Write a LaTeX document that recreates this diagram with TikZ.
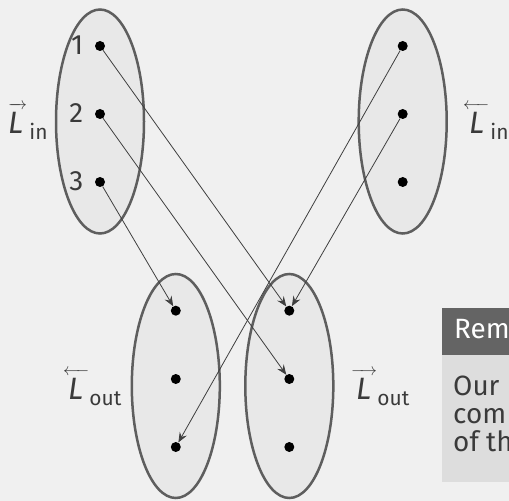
\documentclass[tikz,border=0pt]{standalone}
\usepackage{fontspec}
\setmainfont{Fira Sans}
\usetikzlibrary{shapes.geometric,arrows.meta}
\definecolor{bgc}{HTML}{F0F0F0}
\definecolor{setfill}{HTML}{E8E8E8}
\definecolor{setline}{HTML}{5E5E5E}
\definecolor{txt}{HTML}{3A3A3A}
\definecolor{conn}{HTML}{3F3F3F}
\definecolor{hdr}{HTML}{646464}
\definecolor{bodyc}{HTML}{DDDDDD}
% #1 arrow command, #2 kern, #3 arrow width, #4 subscript
\newcommand\vecLabel[4]{%
  \rlap{\kern#2\raisebox{25bp}{\fontsize{16}{16}\selectfont$#1{\hbox to #3{}}$}}%
  {\fontsize{31}{31}\selectfont\itshape L}\kern6bp\raisebox{-6bp}{\fontsize{21}{21}\selectfont #4}}
\tikzset{
  setell/.style={ellipse, draw=setline, fill=setfill, line width=2.5bp,
    minimum width=88bp, minimum height=224bp, inner sep=0pt},
  elem/.style={circle, fill=black, minimum size=10bp, inner sep=0pt},
  num/.style={anchor=base east, inner sep=0pt, text=txt, font=\fontsize{28}{28}\selectfont},
  veclab/.style={anchor=base west, inner sep=0pt, text=txt},
  boxtext/.style={anchor=base west, inner sep=0pt, font=\fontsize{28}{28}\selectfont},
  mapto/.style={draw=conn, line width=0.8bp,
    -{Stealth[length=10bp,width=8bp,inset=3.5bp]}},
}
\begin{document}
\begin{tikzpicture}[x=1bp,y=-1bp]
\useasboundingbox[fill=bgc] (0,0) rectangle (509,501);
% sets
\node[setell] (TL) at (100,121.5) {};
\node[setell] (TR) at (402.7,121.5) {};
\node[setell] (BL) at (175.8,386) {};
\node[setell] (BR) at (289.3,386) {};
% elements
\node[elem] (a1) at (100,46) {};
\node[elem] (a2) at (100,114) {};
\node[elem] (a3) at (100,182) {};
\node[elem] (b1) at (402.7,46) {};
\node[elem] (b2) at (402.7,114) {};
\node[elem] (b3) at (402.7,182) {};
\node[elem] (c1) at (175.8,310.7) {};
\node[elem] (c2) at (175.8,379) {};
\node[elem] (c3) at (175.8,447) {};
\node[elem] (d1) at (289.3,310.7) {};
\node[elem] (d2) at (289.3,379) {};
\node[elem] (d3) at (289.3,447) {};
% numbers
\node[num] (n1) at (83.5,55) {1};
\node[num] (n2) at (83.5,123) {2};
\node[num] (n3) at (83.5,191) {3};
% labels
\node[veclab] (lTL) at (8,134) {\vecLabel{\overrightarrow}{0bp}{19bp}{in}};
\node[veclab] (lTR) at (469,134) {\vecLabel{\overleftarrow}{-6bp}{26bp}{in}};
\node[veclab] (lBL) at (68,399) {\vecLabel{\overleftarrow}{-5bp}{26bp}{out}};
\node[veclab] (lBR) at (356,399) {\vecLabel{\overrightarrow}{-5bp}{26bp}{out}};
% maps
\draw[mapto] (a1) -- (d1);
\draw[mapto] (a2) -- (d2);
\draw[mapto] (a3) -- (c1);
\draw[mapto] (b1) -- (c3);
\draw[mapto] (b2) -- (d1);
% remark block
\fill[hdr] (442,308) rectangle (520,355);
\fill[bodyc] (442,355) rectangle (520,482);
\node[boxtext, text=white] (rh) at (454,338) {Rem};
\node[boxtext, text=txt] (r1) at (453,395) {Our};
\node[boxtext, text=txt] (r2) at (453,423) {com};
\node[boxtext, text=txt] (r3) at (453,451) {of th};
\end{tikzpicture}
\end{document}
